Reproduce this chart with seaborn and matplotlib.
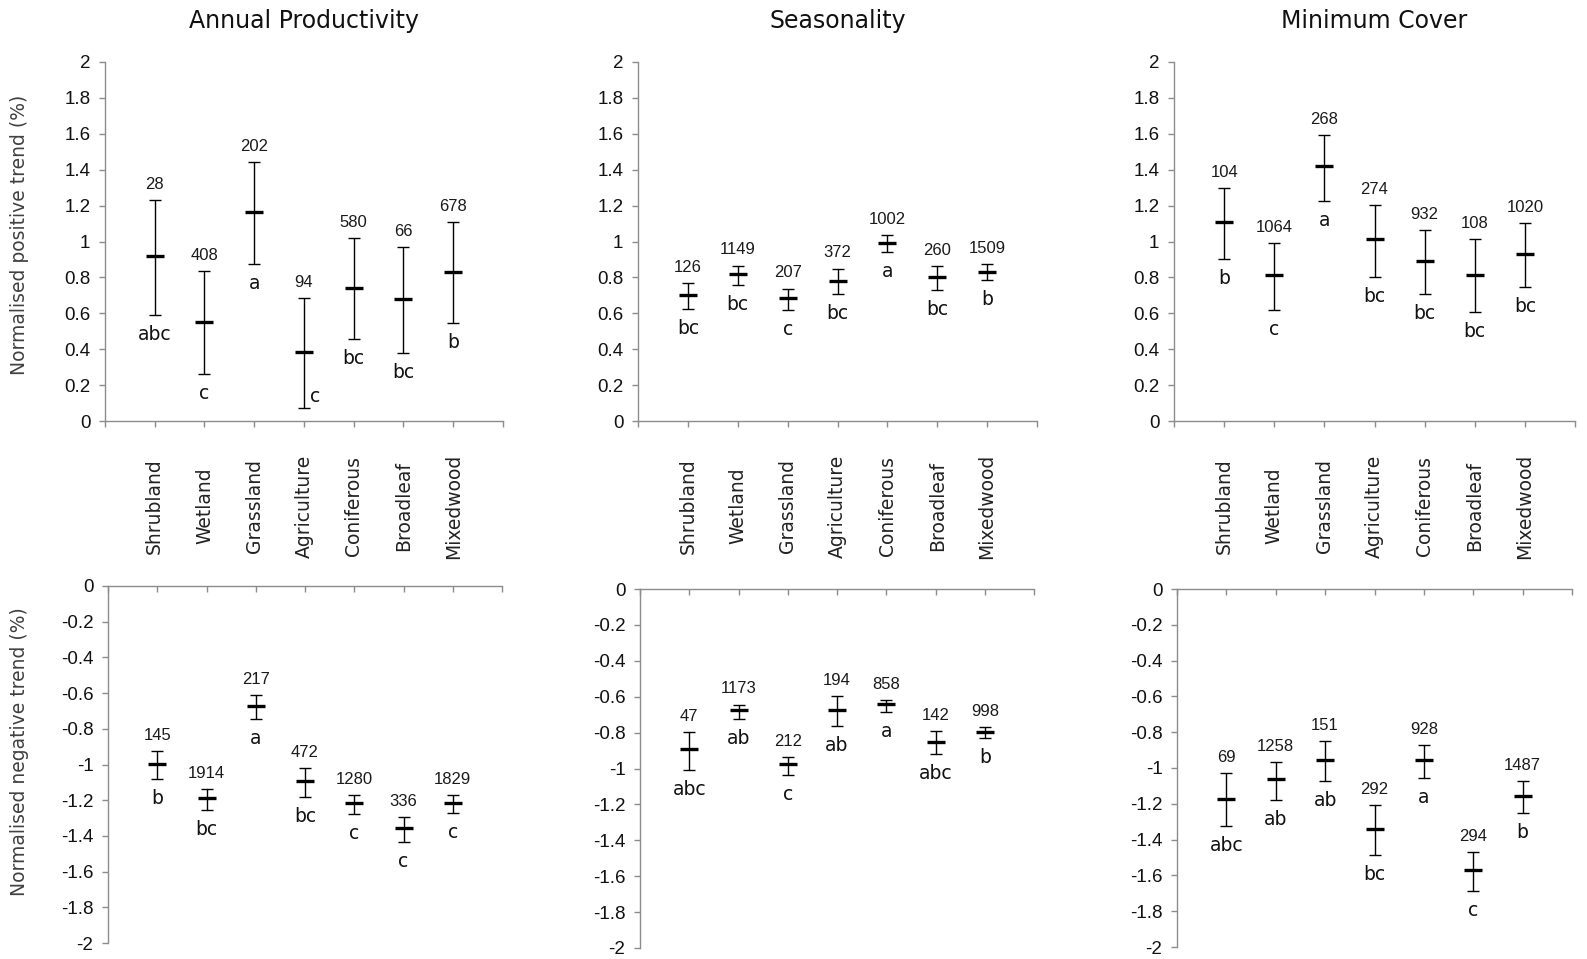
import matplotlib
matplotlib.use('Agg')
import matplotlib.pyplot as plt
import seaborn as sns
import numpy as np
import pandas as pd

categories = ['Shrubland', 'Wetland', 'Grassland', 'Agriculture', 'Coniferous', 'Broadleaf', 'Mixedwood']
panel_titles = ['Annual Productivity', 'Seasonality', 'Minimum Cover']

# positive trends (top row)
prod_pos_mean = [0.917, 0.553, 1.164, 0.384, 0.741, 0.680, 0.830]
prod_pos_low = [0.590, 0.262, 0.873, 0.074, 0.455, 0.377, 0.548]
prod_pos_high = [1.230, 0.836, 1.441, 0.685, 1.018, 0.969, 1.109]
prod_pos_n = [28, 408, 202, 94, 580, 66, 678]
prod_pos_group = ['abc', 'c', 'a', 'c', 'bc', 'bc', 'b']

seas_pos_mean = [0.704, 0.818, 0.686, 0.782, 0.994, 0.801, 0.831]
seas_pos_low = [0.625, 0.757, 0.619, 0.710, 0.941, 0.729, 0.783]
seas_pos_high = [0.770, 0.866, 0.738, 0.849, 1.035, 0.861, 0.872]
seas_pos_n = [126, 1149, 207, 372, 1002, 260, 1509]
seas_pos_group = ['bc', 'bc', 'c', 'bc', 'a', 'bc', 'b']

cover_pos_mean = [1.111, 0.811, 1.418, 1.012, 0.889, 0.811, 0.932]
cover_pos_low = [0.902, 0.618, 1.224, 0.800, 0.707, 0.605, 0.744]
cover_pos_high = [1.300, 0.992, 1.593, 1.204, 1.066, 1.012, 1.101]
cover_pos_n = [104, 1064, 268, 274, 932, 108, 1020]
cover_pos_group = ['b', 'c', 'a', 'bc', 'bc', 'bc', 'bc']

# negative trends (bottom row)
prod_neg_mean = [-0.998, -1.187, -0.670, -1.090, -1.216, -1.356, -1.216]
prod_neg_low = [-1.084, -1.254, -0.744, -1.181, -1.278, -1.435, -1.272]
prod_neg_high = [-0.927, -1.140, -0.612, -1.019, -1.170, -1.293, -1.172]
prod_neg_n = [145, 1914, 217, 472, 1280, 336, 1829]
prod_neg_group = ['b', 'bc', 'a', 'bc', 'c', 'c', 'c']

seas_neg_mean = [-0.891, -0.673, -0.977, -0.673, -0.642, -0.850, -0.794]
seas_neg_low = [-1.008, -0.724, -1.038, -0.763, -0.685, -0.921, -0.832]
seas_neg_high = [-0.796, -0.644, -0.936, -0.595, -0.618, -0.791, -0.770]
seas_neg_n = [47, 1173, 212, 194, 858, 142, 998]
seas_neg_group = ['abc', 'ab', 'c', 'ab', 'a', 'abc', 'b']

cover_neg_mean = [-1.171, -1.061, -0.957, -1.339, -0.957, -1.572, -1.158]
cover_neg_low = [-1.324, -1.177, -1.073, -1.488, -1.056, -1.687, -1.250]
cover_neg_high = [-1.030, -0.965, -0.847, -1.209, -0.872, -1.469, -1.073]
cover_neg_n = [69, 1258, 151, 292, 928, 294, 1487]
cover_neg_group = ['abc', 'ab', 'ab', 'bc', 'a', 'c', 'b']

sns.set_theme(style='white')
plt.rcParams['font.family'] = ['Liberation Sans', 'DejaVu Sans']

VERDANA = 'DejaVu Sans'
AXIS_GREY = '#8c8c8c'


def fmt_tick(v):
    v = round(v, 1) + 0.0
    return f'{v:g}'


def draw_panel(ax, mean, low, high, n, group, negative=False):
    df = pd.DataFrame({'x': np.arange(len(categories)), 'landcover': categories,
                       'mean': mean, 'low': low, 'high': high, 'n': n, 'group': group})

    ax.errorbar(df['x'], df['mean'],
                yerr=[df['mean'] - df['low'], df['high'] - df['mean']],
                fmt='none', ecolor='black', elinewidth=1.0, capsize=4, capthick=1.0)
    sns.scatterplot(data=df, x='x', y='mean', marker='_', s=180, linewidth=2.4,
                    color='black', ax=ax, legend=False, zorder=3)

    for _, row in df.iterrows():
        ax.annotate(str(row['n']), (row['x'], row['high']), xytext=(0, 8),
                    textcoords='offset points', ha='center', va='baseline',
                    fontsize=12, color='#1a1a1a')
        if not negative and row['low'] - 0.16 < 0:
            # no room under the whisker: put the letter beside it
            ax.annotate(row['group'], (row['x'], row['low']), xytext=(8, 4),
                        textcoords='offset points', ha='center', va='baseline',
                        fontsize=13.5, family=VERDANA, color='#111111')
        else:
            ax.annotate(row['group'], (row['x'], row['low']), xytext=(0, -18),
                        textcoords='offset points', ha='center', va='baseline',
                        fontsize=13.5, family=VERDANA, color='#111111')

    ax.set_xlim(-1, len(categories))
    ax.set_xticks(np.arange(-1, len(categories) + 1))
    ax.set_xticklabels([])
    ax.set_xlabel('')
    ax.set_ylabel('')

    if negative:
        ax.set_ylim(-2, 0)
        yt = np.round(np.arange(0, -2.01, -0.2), 1)
        ax.xaxis.tick_top()
        ax.spines['top'].set_visible(True)
        ax.spines['bottom'].set_visible(False)
        ax.tick_params(axis='x', direction='in', length=4.5, width=1, color=AXIS_GREY, top=True, bottom=False)
    else:
        ax.set_ylim(0, 2)
        yt = np.round(np.arange(0, 2.01, 0.2), 1)
        ax.spines['top'].set_visible(False)
        ax.tick_params(axis='x', direction='out', length=4.5, width=1, color=AXIS_GREY, bottom=True)
        for i, name in enumerate(categories):
            ax.text(i, -0.237, name, transform=ax.get_xaxis_transform(), rotation=90,
                    ha='center', va='center', fontsize=13.5, family=VERDANA, color='#222222')

    ax.set_yticks(yt)
    ax.set_yticklabels([fmt_tick(v) for v in yt])
    ax.tick_params(axis='y', direction='out', length=4.5, width=1, color=AXIS_GREY,
                   left=True, pad=6, labelsize=13.5, labelcolor='#111111')
    ax.spines['right'].set_visible(False)
    for side in ['left', 'top', 'bottom']:
        ax.spines[side].set_color(AXIS_GREY)
        ax.spines[side].set_linewidth(1)
    ax.set_facecolor('white')


fig = plt.figure(figsize=(15.87, 9.59), dpi=100)
fig.patch.set_facecolor('white')

W, H = 1587, 959
top_boxes = [(105, 503), (638, 1037), (1174, 1575)]
bottom_boxes = [(108, 502), (640, 1034), (1177, 1572)]
top_y = (62, 421)
bottom_y = [(586, 943), (589, 948), (589, 947)]

pos_data = [
    (prod_pos_mean, prod_pos_low, prod_pos_high, prod_pos_n, prod_pos_group),
    (seas_pos_mean, seas_pos_low, seas_pos_high, seas_pos_n, seas_pos_group),
    (cover_pos_mean, cover_pos_low, cover_pos_high, cover_pos_n, cover_pos_group),
]
neg_data = [
    (prod_neg_mean, prod_neg_low, prod_neg_high, prod_neg_n, prod_neg_group),
    (seas_neg_mean, seas_neg_low, seas_neg_high, seas_neg_n, seas_neg_group),
    (cover_neg_mean, cover_neg_low, cover_neg_high, cover_neg_n, cover_neg_group),
]

for j in range(3):
    x0, x1 = top_boxes[j]
    ax = fig.add_axes([x0 / W, 1 - top_y[1] / H, (x1 - x0) / W, (top_y[1] - top_y[0]) / H])
    draw_panel(ax, *pos_data[j], negative=False)
    fig.text((x0 + x1) / 2 / W, 1 - 21 / H, panel_titles[j], ha='center', va='center',
             fontsize=17, family=VERDANA, color='#111111')

    x0, x1 = bottom_boxes[j]
    yt, yb = bottom_y[j]
    ax = fig.add_axes([x0 / W, 1 - yb / H, (x1 - x0) / W, (yb - yt) / H])
    draw_panel(ax, *neg_data[j], negative=True)

fig.text(20 / W, 1 - 235 / H, 'Normalised positive trend (%)', rotation=90, ha='center', va='center',
         fontsize=13.5, family=VERDANA, color='#404040')
fig.text(20 / W, 1 - 752 / H, 'Normalised negative trend (%)', rotation=90, ha='center', va='center',
         fontsize=13.5, family=VERDANA, color='#404040')

fig.savefig('out.png', dpi=100, facecolor='white')
